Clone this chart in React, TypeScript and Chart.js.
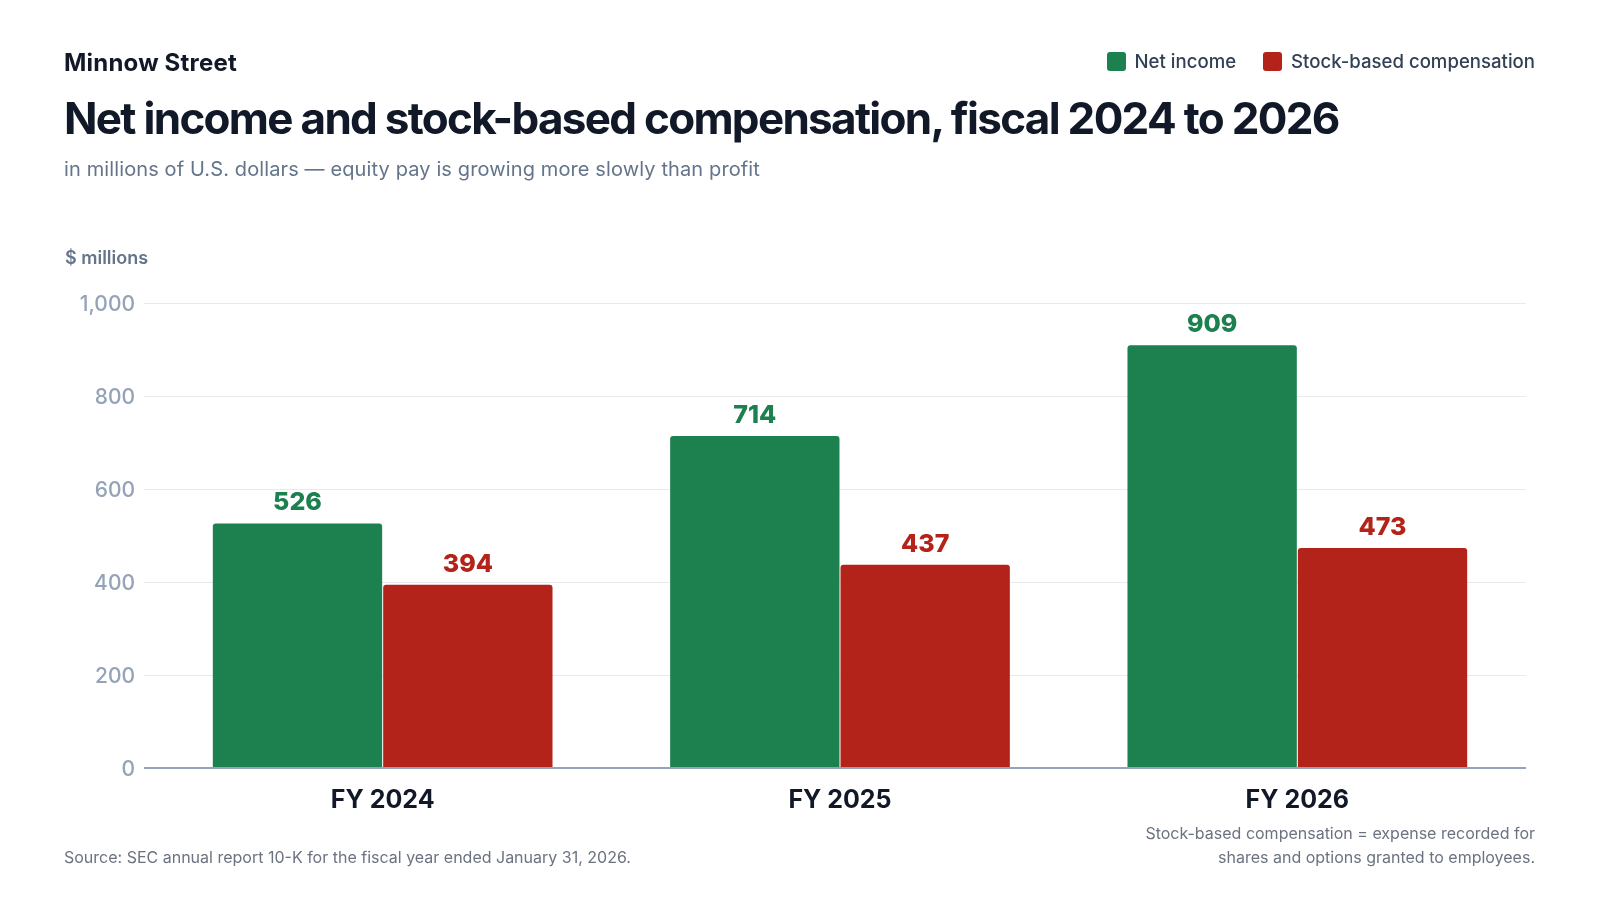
import { useEffect, useRef } from 'react';
import { Chart, registerables } from 'chart.js';

Chart.register(...registerables);

const years = ['FY 2024', 'FY 2025', 'FY 2026'];
const netIncome = [526, 714, 909];
const stockComp = [394, 437, 473];
const yTicks = [0, 200, 400, 600, 800, 1000];

const GREEN = '#1c804f';
const RED = '#b3231a';
const FONT = 'Inter, "Noto Sans", sans-serif';

const valueLabels = {
  id: 'valueLabels',
  afterDatasetsDraw(chart: Chart) {
    const { ctx } = chart;
    ctx.save();
    ctx.font = `800 25px ${FONT}`;
    ctx.textAlign = 'center';
    ctx.textBaseline = 'alphabetic';
    chart.data.datasets.forEach((ds, i) => {
      const meta = chart.getDatasetMeta(i);
      ctx.fillStyle = ds.backgroundColor as string;
      meta.data.forEach((bar, j) => {
        ctx.fillText(String(ds.data[j]), bar.x, bar.y - 13);
      });
    });
    ctx.restore();
  },
};

export default function App() {
  const canvasRef = useRef<HTMLCanvasElement>(null);
  const chartRef = useRef<Chart | null>(null);

  useEffect(() => {
    document.body.style.margin = '0';
    if (!canvasRef.current) return;
    if (chartRef.current) chartRef.current.destroy();

    chartRef.current = new Chart(canvasRef.current, {
      type: 'bar',
      data: {
        labels: years,
        datasets: [
          { label: 'Net income', data: netIncome, backgroundColor: GREEN, borderRadius: 3, borderSkipped: 'start' },
          { label: 'Stock-based compensation', data: stockComp, backgroundColor: RED, borderRadius: 3, borderSkipped: 'start' },
        ],
      },
      options: {
        responsive: false,
        animation: false,
        devicePixelRatio: 1,
        layout: { padding: { top: 303, right: 74, bottom: 72, left: 0 } },
        datasets: { bar: { categoryPercentage: 0.745, barPercentage: 0.994 } },
        plugins: { legend: { display: false }, tooltip: { enabled: false } },
        scales: {
          x: {
            grid: { display: false, drawTicks: false },
            border: { display: false },
            ticks: { padding: 17, color: '#111827', font: { family: FONT, size: 25, weight: 700 } },
            afterFit: (s: any) => { s.height = 60; },
          },
          y: {
            min: 0,
            max: 1000,
            afterBuildTicks: (s: any) => { s.ticks = yTicks.map((v) => ({ value: v })); },
            grid: {
              color: (c: any) => (c.tick && c.tick.value === 0 ? '#94a3b8' : '#e8eaee'),
              lineWidth: (c: any) => (c.tick && c.tick.value === 0 ? 2 : 1),
              tickLength: 10,
            },
            border: { display: false },
            ticks: {
              padding: 9,
              labelOffset: 2,
              color: '#94a3b8',
              font: { family: FONT, size: 21, weight: 500 },
              callback: (v: any) => Number(v).toLocaleString('en-US'),
            },
            afterFit: (s: any) => { s.width = 154; },
          },
        },
      },
      plugins: [valueLabels],
    });

    return () => chartRef.current?.destroy();
  }, []);

  const txt = (style: React.CSSProperties): React.CSSProperties => ({
    position: 'absolute',
    margin: 0,
    lineHeight: 1,
    fontFamily: FONT,
    whiteSpace: 'nowrap',
    ...style,
  });

  return (
    <div style={{ position: 'relative', width: 1600, height: 900, background: '#fff', overflow: 'hidden' }}>
      <canvas ref={canvasRef} width={1600} height={900} style={{ position: 'absolute', left: 0, top: 0 }} />
      <div style={txt({ left: 64, top: 51, fontSize: 24, fontWeight: 700, color: '#111827', letterSpacing: 0.2 })}>Minnow Street</div>
      <div style={txt({ left: 64, top: 96, fontSize: 44, fontWeight: 700, color: '#111827', letterSpacing: -1.7 })}>
        Net income and stock-based compensation, fiscal 2024 to 2026
      </div>
      <div style={txt({ left: 64, top: 159, fontSize: 20, fontWeight: 400, color: '#64748b', letterSpacing: 0.12 })}>
        in millions of U.S. dollars — equity pay is growing more slowly than profit
      </div>
      <div style={txt({ left: 65, top: 249, fontSize: 18, fontWeight: 600, color: '#64748b' })}>$ millions</div>

      <div style={{ position: 'absolute', right: 65, top: 52, display: 'flex', alignItems: 'center', gap: 27, fontFamily: FONT, fontSize: 18.6, fontWeight: 500, color: '#334155' }}>
        {[['Net income', GREEN], ['Stock-based compensation', RED]].map(([label, color]) => (
          <div key={label} style={{ display: 'flex', alignItems: 'center', gap: 9 }}>
            <span style={{ width: 19, height: 19, borderRadius: 3, background: color, display: 'inline-block' }} />
            <span style={{ lineHeight: '19px' }}>{label}</span>
          </div>
        ))}
      </div>

      <div style={txt({ left: 64, top: 849, fontSize: 16, color: '#6b7280' })}>
        Source: SEC annual report 10-K for the fiscal year ended January 31, 2026.
      </div>
      <div style={txt({ right: 65, top: 821, fontSize: 16, lineHeight: '24px', color: '#6b7280', textAlign: 'right' })}>
        Stock-based compensation = expense recorded for
        <br />
        shares and options granted to employees.
      </div>
    </div>
  );
}
